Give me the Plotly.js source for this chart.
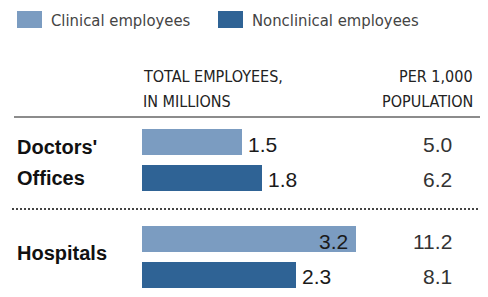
<!DOCTYPE html>
<html>
<head>
<meta charset="utf-8">
<script src="https://cdn.plot.ly/plotly-3.0.1.min.js"></script>
<style>html,body{margin:0;padding:0;background:#fff;}#chart{width:488px;height:297px;}</style>
</head>
<body>
<div id="chart"></div>
<script>
// ---- data ----
const groups = [["Doctors'", "Offices"], ["Hospitals"]];
const seriesNames = ["Clinical employees", "Nonclinical employees"];
const clinical = [1.5, 3.2];          // total employees, millions
const nonclinical = [1.8, 2.3];
const clinicalPer1000 = ["5.0", "11.2"];
const nonclinicalPer1000 = ["6.2", "8.1"];
const headerTotal = ["TOTAL EMPLOYEES,", "IN MILLIONS"];
const headerPer = ["PER 1,000", "POPULATION"];

// ---- styles / layout ----
const C1 = "#7b9cc1", C2 = "#2f6395";
const W = 488, H = 297;
const x0px = 142, pxPerUnit = 66.8;
const xr = [-x0px / pxPerUnit, (W - x0px) / pxPerUnit];
const groupTop = [142, 239];     // centre of first bar in each group (px)
const rowGap = 35.5, barW = 26;
const yC = groupTop.slice();
const yN = groupTop.map(v => v + rowGap);

const narrow = "'DejaVu Sans Condensed', 'Liberation Sans Narrow', sans-serif";
const sans = "'Liberation Sans', Arial, sans-serif";

const traces = [
  {type: 'bar', orientation: 'h', name: seriesNames[0], x: clinical, y: yC, width: barW,
   marker: {color: C1, line: {width: 0}}, hoverinfo: 'none', showlegend: false},
  {type: 'bar', orientation: 'h', name: seriesNames[1], x: nonclinical, y: yN, width: barW,
   marker: {color: C2, line: {width: 0}}, hoverinfo: 'none', showlegend: false}
];

const ann = [];
const shapes = [];
// legend
const legX = [17, 218];
seriesNames.forEach((n, i) => {
  shapes.push({type: 'rect', xref: 'paper', yref: 'y', x0: legX[i] / W, x1: (legX[i] + 25) / W,
    y0: 11, y1: 28, fillcolor: i ? C2 : C1, line: {width: 0}});
  ann.push({xref: 'paper', yref: 'y', x: (legX[i] + 32) / W, y: 20, xanchor: 'left', yanchor: 'middle',
    text: n, showarrow: false, font: {family: narrow, size: 16.5, color: '#444'}});
});
// headers
headerTotal.forEach((t, k) => ann.push({xref: 'paper', yref: 'y', x: 141 / W, y: 76 + 25 * k,
  xanchor: 'left', yanchor: 'middle', text: t, showarrow: false,
  font: {family: narrow, size: 16, color: '#222'}}));
headerPer.forEach((t, k) => ann.push({xref: 'paper', yref: 'y', x: 475 / W, y: 76 + 25 * k,
  xanchor: 'right', yanchor: 'middle', text: t, showarrow: false,
  font: {family: narrow, size: 16, color: '#222'}}));
// group labels
const labelY = [[146.5, 177.5], [253]];
groups.forEach((g, i) => g.forEach((t, k) => ann.push({xref: 'paper', yref: 'y', x: 15 / W, y: labelY[i][k],
  xanchor: 'left', yanchor: 'middle', text: '<b>' + t + '</b>', showarrow: false,
  font: {family: sans, size: 20, color: '#111'}})));
// value labels
function valueLabel(v, y, inside) {
  ann.push({xref: 'x', yref: 'y', x: v, y: y + 2, xanchor: inside ? 'right' : 'left', yanchor: 'middle',
    xshift: inside ? -6 : 4, text: v.toFixed(1), showarrow: false,
    font: {family: sans, size: 21, color: '#1a1a1a'}});
}
clinical.forEach((v, i) => valueLabel(v, yC[i], v >= 3));
nonclinical.forEach((v, i) => valueLabel(v, yN[i], false));
// per 1000
function perLabel(t, y) {
  ann.push({xref: 'paper', yref: 'y', x: 454 / W, y: y + 2, xanchor: 'right', yanchor: 'middle',
    text: t, showarrow: false, font: {family: sans, size: 21, color: '#333'}});
}
clinicalPer1000.forEach((t, i) => perLabel(t, yC[i]));
nonclinicalPer1000.forEach((t, i) => perLabel(t, yN[i]));
// dividers
shapes.push({type: 'line', xref: 'paper', yref: 'y', x0: 14 / W, x1: 480 / W, y0: 117, y1: 117,
  line: {color: '#666', width: 1.5}});
shapes.push({type: 'line', xref: 'paper', yref: 'y', x0: 12 / W, x1: 478 / W, y0: 209, y1: 209,
  line: {color: '#444', width: 2, dash: '2px,2px'}});

const layout = {
  width: W, height: H, margin: {l: 0, r: 0, t: 0, b: 0},
  paper_bgcolor: '#fff', plot_bgcolor: '#fff', showlegend: false,
  xaxis: {range: xr, visible: false, fixedrange: true},
  yaxis: {range: [H, 0], visible: false, fixedrange: true},
  annotations: ann, shapes: shapes, bargap: 0
};
Plotly.newPlot('chart', traces, layout, {staticPlot: true, displayModeBar: false});
</script>
</body>
</html>
